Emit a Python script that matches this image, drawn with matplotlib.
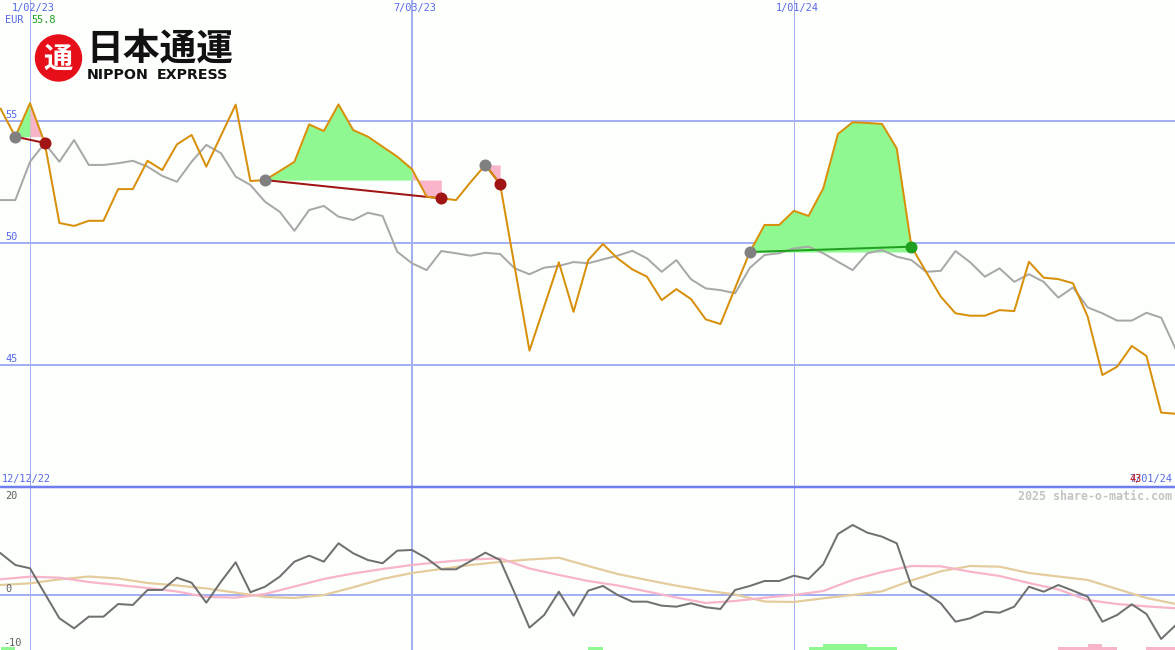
import numpy as np
import pandas as pd
import matplotlib
matplotlib.use("Agg")
import matplotlib.pyplot as plt
import matplotlib.dates as mdates
from matplotlib.patches import Circle

# ---------------- data ----------------
start_date = "2022-12-19"
n_weeks = 81

price = [55.50, 54.36, 55.73, 54.10, 50.82, 50.70, 50.91, 50.91, 52.21, 52.21,
         53.37, 52.99, 54.04, 54.43, 53.13, 54.40, 55.67, 52.54, 52.58, 52.95,
         53.33, 54.86, 54.59, 55.68, 54.63, 54.36, 53.95, 53.54, 53.03, 51.90,
         51.83, 51.76, 52.50, 53.20, 52.41, 49.00, 45.59, 47.40, 49.21, 47.18,
         49.30, 49.96, 49.37, 48.92, 48.62, 47.66, 48.11, 47.70, 46.87, 46.68,
         48.16, 49.63, 50.74, 50.74, 51.32, 51.11, 52.24, 54.47, 54.95, 54.92,
         54.88, 53.88, 49.85, 48.82, 47.80, 47.12, 47.02, 47.02, 47.25, 47.21,
         49.23, 48.58, 48.52, 48.35, 46.98, 44.59, 44.93, 45.78, 45.37, 43.05,
         43.00]

avg_line = [51.76, 51.76, 53.33, 54.09, 53.33, 54.22, 53.20, 53.20, 53.27, 53.37,
            53.13, 52.75, 52.51, 53.33, 54.02, 53.68, 52.72, 52.38, 51.69, 51.28,
            50.50, 51.35, 51.52, 51.08, 50.94, 51.24, 51.11, 49.64, 49.17, 48.89,
            49.67, 49.58, 49.48, 49.60, 49.55, 48.96, 48.72, 48.99, 49.06, 49.22,
            49.17, 49.33, 49.48, 49.68, 49.37, 48.82, 49.30, 48.51, 48.14, 48.07,
            47.94, 48.98, 49.51, 49.58, 49.78, 49.85, 49.58, 49.23, 48.89, 49.58,
            49.71, 49.44, 49.30, 48.82, 48.86, 49.67, 49.21, 48.62, 48.96, 48.41,
            48.72, 48.41, 47.76, 48.18, 47.36, 47.12, 46.82, 46.82, 47.14, 46.94,
            45.64]

momentum = [7.81, 5.62, 5.00, 0.30, -4.36, -6.24, -4.06, -4.06, -1.69, -1.87,
            0.94, 0.94, 3.24, 2.30, -1.44, 2.49, 6.12, 0.51, 1.55, 3.43,
            6.24, 7.36, 6.24, 9.68, 7.81, 6.55, 5.94, 8.30, 8.43, 6.87,
            4.81, 4.81, 6.37, 7.92, 6.55, 0.32, -6.12, -3.75, 0.62, -3.88,
            0.81, 1.69, 0.00, -1.25, -1.25, -2.00, -2.19, -1.55, -2.30, -2.62,
            0.94, 1.69, 2.62, 2.62, 3.61, 3.00, 5.75, 11.42, 13.11, 11.67,
            10.92, 9.68, 1.69, 0.32, -1.55, -5.00, -4.36, -3.13, -3.31, -2.19,
            1.55, 0.62, 1.87, 0.81, -0.32, -5.00, -3.75, -1.74, -3.56, -8.24,
            -5.62]

# smooth averages of the momentum, read every second week
mom_fast = [2.94, 3.43, 3.24, 2.43, 1.87, 1.31, 0.66, -0.37, -0.49, 0.19,
            1.59, 3.00, 4.03, 4.87, 5.62, 6.18, 6.65, 6.87, 4.96, 3.75,
            2.62, 1.78, 0.66, -0.47, -1.50, -1.12, -0.52, 0.00, 0.75, 2.81,
            4.31, 5.43, 5.37, 4.36, 3.56, 2.25, 1.03, -0.94, -1.69, -2.13,
            -2.49]
mom_slow = [1.87, 2.19, 2.92, 3.46, 3.09, 2.25, 1.78, 1.22, 0.45, -0.37,
            -0.56, 0.00, 1.44, 3.00, 4.12, 4.87, 5.62, 6.18, 6.65, 6.98,
            5.43, 3.93, 2.81, 1.74, 0.84, 0.09, -1.22, -1.31, -0.62, 0.00,
            0.69, 2.72, 4.44, 5.43, 5.30, 4.12, 3.46, 2.81, 1.12, -0.56,
            -1.69]

# trades: entry week, end-of-green week, exit week
trade_entry = [1, 18, 33, 51]
trade_split = [2, 28, 33, 62]
trade_exit = [3, 30, 34, 62]

# signal bars (week index, level)
green_bar_idx = [0, 40, 55, 56, 57, 58, 59, 60]
green_bar_lvl = [1, 1, 1, 2, 2, 2, 1, 1]
pink_bar_idx = [72, 73, 74, 75, 78, 79]
pink_bar_lvl = [1, 1, 2, 1, 1, 1]

grid_dates = ["2023-01-02", "2023-07-03", "2024-01-01"]
grid_labels = ["1/02/23", "7/03/23", "1/01/24"]
grid_widths = [1, 2, 1]
price_levels = [45, 50, 55]

# ---------------- styling ----------------
W, H = 1175, 650
BG = "#fcfffc"
BLUE_TXT = "#5868e8"
GRID = "#a4b0f2"
ORANGE = "#d8900a"
GRAY = "#a8a8a8"
GREEN_FILL = "#90f890"
PINK = "#f8b4c8"
DARKRED = "#a01414"
DKGREEN = "#20a020"
PX = 0.72  # points per pixel at 100 dpi

dates = pd.date_range(start_date, periods=n_weeks, freq="7D")
x = mdates.date2num(dates)
x_ma = x[::2]
p = np.array(price)
xlim = (x[0] - 0.3, x[0] + 559.6)

fig = plt.figure(figsize=(W / 100, H / 100), dpi=100, facecolor=BG)
ax1 = fig.add_axes([0, 163 / H, 1, 487 / H])
ax2 = fig.add_axes([0, 0, 1, 163 / H])
for ax in (ax1, ax2):
    ax.set_facecolor(BG)
    for s in ax.spines.values():
        s.set_visible(False)
    ax.set_xticks([])
    ax.set_yticks([])
    ax.set_xlim(*xlim)
ax1.set_ylim(40.0, 59.96)
ax2.set_ylim(-10.3, 20.22)

gx = mdates.date2num(pd.to_datetime(grid_dates))
for g, w in zip(gx, grid_widths):
    ax1.axvline(g, color=GRID, lw=w * PX, zorder=0)
    ax2.axvline(g, color=GRID, lw=w * PX, zorder=0)
for lv in price_levels:
    ax1.axhline(lv, color=GRID, lw=2 * PX, zorder=0)
ax2.axhline(0, color=GRID, lw=2 * PX, zorder=0)
ax2.axhline(20.22, color="#6f7ff0", lw=2.5 * PX, zorder=5, clip_on=False)

# trades
for e, s, xo in zip(trade_entry, trade_split, trade_exit):
    lvl_in = p[e]
    lvl_out = p[xo]
    if s > e:
        ax1.fill_between(x[e:s + 1], p[e:s + 1], lvl_in, where=p[e:s + 1] >= lvl_in,
                         interpolate=True, color=GREEN_FILL, lw=0, zorder=1)
    if xo > s:
        ax1.fill_between(x[s:xo + 1], lvl_in, np.maximum(p[s:xo + 1], lvl_out),
                         color=PINK, lw=0, zorder=1)

ax1.plot(x, avg_line, color=GRAY, lw=2 * PX, zorder=2)

for e, xo in zip(trade_entry, trade_exit):
    col = DKGREEN if p[xo] > p[e] else DARKRED
    ax1.plot([x[e], x[xo]], [p[e], p[xo]], color=col, lw=2 * PX, zorder=3,
             solid_capstyle="butt")

ax1.plot(x, p, color=ORANGE, lw=2 * PX, zorder=4)

for e, xo in zip(trade_entry, trade_exit):
    col = DKGREEN if p[xo] > p[e] else DARKRED
    ax1.plot(x[e], p[e], "o", ms=12 * PX, color="#808080", mec="none", zorder=6)
    ax1.plot(x[xo], p[xo], "o", ms=12 * PX, color=col, mec="none", zorder=6)

# lower panel
unit = 3 / 5.34
ax2.bar(x[green_bar_idx], np.array(green_bar_lvl) * unit, width=7, bottom=-10.3,
        align="edge", color=GREEN_FILL, lw=0, zorder=1)
ax2.bar(x[pink_bar_idx], np.array(pink_bar_lvl) * unit, width=7, bottom=-10.3,
        align="edge", color=PINK, lw=0, zorder=1)
ax2.plot(x_ma, mom_slow, color="#e4cc9c", lw=2.2 * PX, zorder=2)
ax2.plot(x_ma, mom_fast, color=PINK, lw=2.2 * PX, zorder=2)
ax2.plot(x, momentum, color="#707070", lw=2 * PX, zorder=3)


# ---------------- text ----------------
def ftext(px, py, s, **kw):
    kw.setdefault("va", "center")
    return fig.text(px / W, 1 - py / H, s, **kw)


mono = dict(family="DejaVu Sans Mono", fontsize=7.4)
for g, lab in zip(gx, grid_labels):
    pxg = (g - xlim[0]) / (xlim[1] - xlim[0]) * W
    ftext(pxg + 3, 8, lab, ha="center", color=BLUE_TXT, **mono)
ftext(5, 20, "EUR", ha="left", color=BLUE_TXT, **mono)
ftext(31, 20, "55.8", ha="left", color=DKGREEN, **mono)

for lv in price_levels:
    py = 243 - (lv - 50) * 24.4 - 6
    ftext(5, py, str(lv), ha="left", color=BLUE_TXT, **mono)

ftext(2, 479, "12/12/22", ha="left", color=BLUE_TXT, **mono)
ftext(1172, 479, "7/01/24", ha="right", color=BLUE_TXT, **mono)
ftext(1129, 479, "43", ha="left", color="#c01010", **mono)
ftext(1172, 496, "2025 share-o-matic.com", ha="right", color="#c4c4c4",
      family="DejaVu Sans Mono", fontsize=8.4, weight="bold")
ftext(5, 496, "20", ha="left", color="#606060", **mono)
ftext(5, 589, "0", ha="left", color="#606060", **mono)
ftext(3, 643, "-10", ha="left", color="#606060", **mono)

# logo
logo_ax = fig.add_axes([0, 0, 1, 1], facecolor="none")
logo_ax.set_xlim(0, W)
logo_ax.set_ylim(H, 0)
logo_ax.axis("off")
logo_ax.add_patch(Circle((58.5, 58), 23, color="#e60f19", zorder=1))
logo_ax.text(58.5, 59, "通", ha="center", va="center", color="white",
             family="Noto Sans CJK JP", weight="bold", fontsize=21, zorder=2)
logo_ax.text(86, 49, "日本通運", ha="left", va="center", color="#111111",
             family="Noto Sans CJK JP", weight="bold", fontsize=26.5)
logo_kw = dict(ha="left", va="center", color="#111111", family="DejaVu Sans",
               weight="bold", fontsize=10.3)
logo_ax.text(87, 75, "NIPPON", **logo_kw)
logo_ax.text(157, 75, "EXPRESS", **logo_kw)

fig.savefig("out.png", dpi=100, facecolor=BG)
